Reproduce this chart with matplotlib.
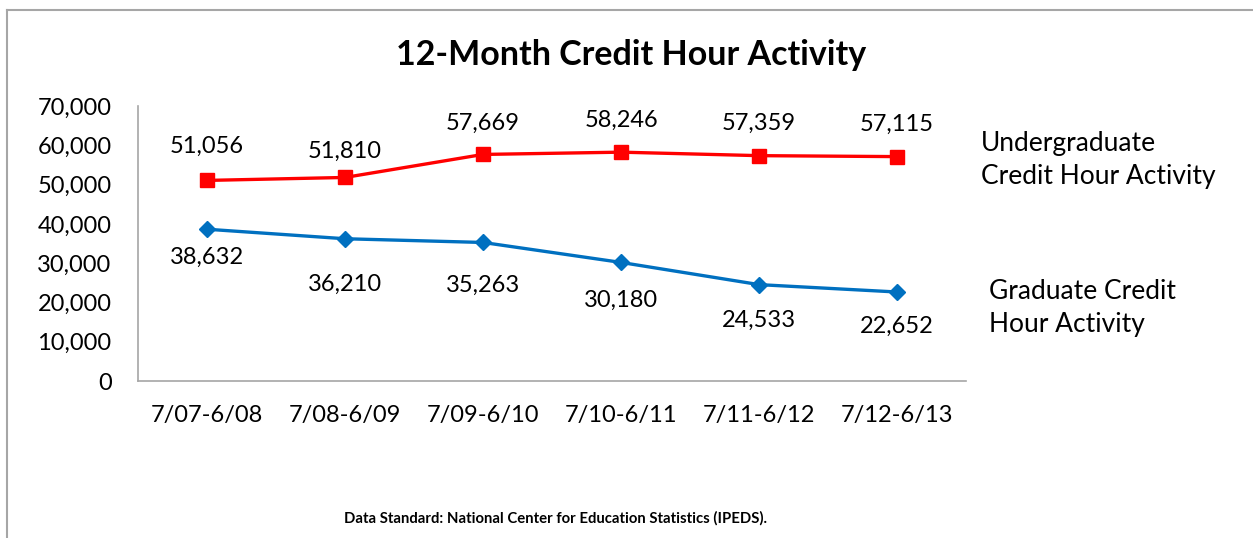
import matplotlib
matplotlib.use("Agg")
import matplotlib.pyplot as plt
from matplotlib.lines import Line2D
from matplotlib.ticker import FuncFormatter

categories = ["7/07-6/08", "7/08-6/09", "7/09-6/10", "7/10-6/11", "7/11-6/12", "7/12-6/13"]
undergrad = [51056, 51810, 57669, 58246, 57359, 57115]
graduate = [38632, 36210, 35263, 30180, 24533, 22652]
yticks = [0, 10000, 20000, 30000, 40000, 50000, 60000, 70000]

FONT = "Lato"
plt.rcParams["font.family"] = [FONT, "DejaVu Sans"]

fig = plt.figure(figsize=(12.53, 5.38), dpi=100)
ax = fig.add_axes([0.1101, 0.2918, 0.661, 0.5112])

x = list(range(len(categories)))
ax.plot(x, undergrad, color="#FF0000", lw=2.4, marker="s", ms=10, zorder=3)
ax.plot(x, graduate, color="#0070C0", lw=2.4, marker="D", ms=8, zorder=3)

ug_dy = [24.5, 19, 22.5, 23, 23, 23]
for xi, v, dy in zip(x, undergrad, ug_dy):
    ax.annotate(f"{v:,}", (xi, v), xytext=(0, dy), textcoords="offset points",
                ha="center", va="center", fontsize=17, color="black")
grad_dy = [-20, -33, -31, -27, -26, -25]
for xi, v, dy in zip(x, graduate, grad_dy):
    ax.annotate(f"{v:,}", (xi, v), xytext=(0, dy), textcoords="offset points",
                ha="center", va="center", fontsize=17, color="black")

ax.set_xlim(-0.5, len(categories) - 0.5)
ax.set_ylim(0, 70000)
ax.set_yticks(yticks)
ax.yaxis.set_major_formatter(FuncFormatter(lambda v, p: f"{int(v):,}"))
ax.set_xticks(x)
ax.set_xticklabels(categories)
ax.tick_params(axis="both", length=0, labelsize=17, colors="black")
ax.tick_params(axis="y", pad=19)
ax.tick_params(axis="x", pad=17)
for s in ["top", "right"]:
    ax.spines[s].set_visible(False)
for s in ["left", "bottom"]:
    ax.spines[s].set_color("#A6A6A6")
    ax.spines[s].set_linewidth(1.2)

fig.text(0.504, 0.898, "12-Month Credit Hour Activity", ha="center", va="center",
         fontsize=24.5, fontweight="bold")
fig.text(0.783, 0.703, "Undergraduate\nCredit Hour Activity", ha="left", va="center",
         fontsize=19, linespacing=1.4)
fig.text(0.789, 0.428, "Graduate Credit\nHour Activity", ha="left", va="center",
         fontsize=19, linespacing=1.4)
fig.text(0.443, 0.037, "Data Standard: National Center for Education Statistics (IPEDS).",
         ha="center", va="center", fontsize=10.7, fontweight="bold")

# outer frame (left and top edges)
fig.add_artist(Line2D([0.0056, 0.0056], [0, 0.981], transform=fig.transFigure,
                      color="#A6A6A6", lw=1.5))
fig.add_artist(Line2D([0.0056, 1.0], [0.981, 0.981], transform=fig.transFigure,
                      color="#A6A6A6", lw=1.5))

fig.savefig("out.png", dpi=100, facecolor="white")
